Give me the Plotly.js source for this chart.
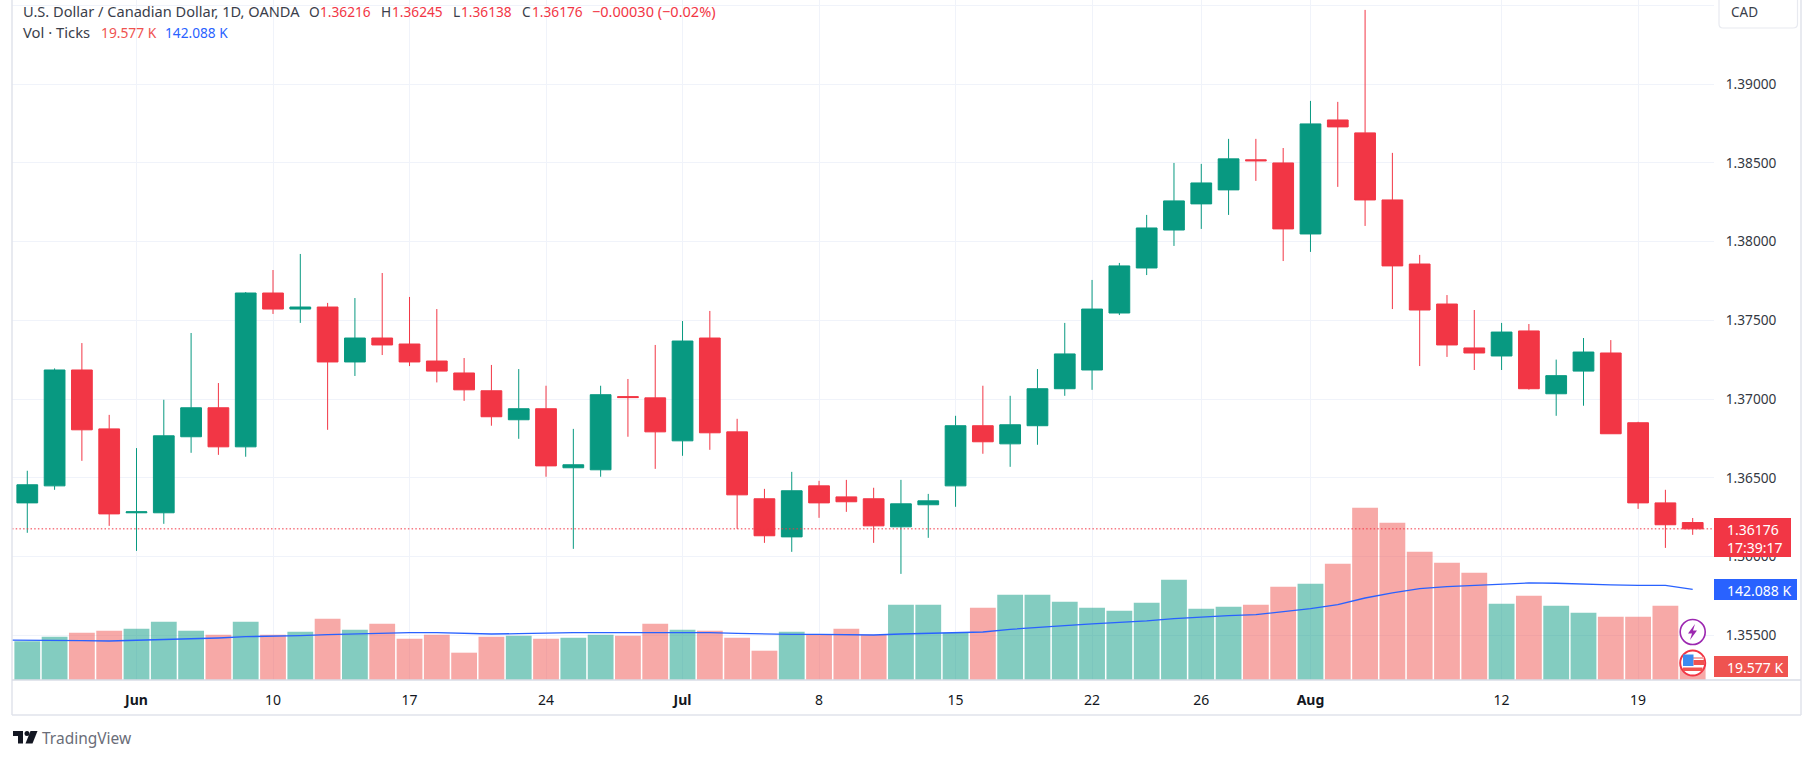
<!DOCTYPE html>
<html>
<head>
<meta charset="utf-8">
<script src="https://cdn.plot.ly/plotly-3.0.1.min.js"></script>
<style>html,body{margin:0;padding:0;background:#fff}#chart{width:1814px;height:759px}</style>
</head>
<body>
<div id="chart"></div>
<script>
const dates = ["2024-05-28","2024-05-29","2024-05-30","2024-05-31","2024-06-03","2024-06-04","2024-06-05","2024-06-06","2024-06-07","2024-06-10","2024-06-11","2024-06-12","2024-06-13","2024-06-14","2024-06-17","2024-06-18","2024-06-19","2024-06-20","2024-06-21","2024-06-24","2024-06-25","2024-06-26","2024-06-27","2024-06-28","2024-07-01","2024-07-02","2024-07-03","2024-07-04","2024-07-05","2024-07-08","2024-07-09","2024-07-10","2024-07-11","2024-07-12","2024-07-15","2024-07-16","2024-07-17","2024-07-18","2024-07-19","2024-07-22","2024-07-23","2024-07-24","2024-07-25","2024-07-26","2024-07-29","2024-07-30","2024-07-31","2024-08-01","2024-08-02","2024-08-05","2024-08-06","2024-08-07","2024-08-08","2024-08-09","2024-08-12","2024-08-13","2024-08-14","2024-08-15","2024-08-16","2024-08-19","2024-08-20","2024-08-21"];
const opens = [1.36341,1.36449,1.37185,1.36811,1.36278,1.36278,1.36761,1.36945,1.36697,1.37674,1.37572,1.37585,1.37236,1.37388,1.37350,1.37242,1.37166,1.37053,1.36869,1.36939,1.36564,1.36551,1.37016,1.37008,1.36735,1.37388,1.36792,1.36367,1.36125,1.36449,1.36379,1.36367,1.36189,1.36329,1.36449,1.36831,1.36716,1.36831,1.37066,1.37185,1.37547,1.37833,1.38074,1.38240,1.38329,1.38520,1.38500,1.38049,1.38773,1.38691,1.38265,1.37858,1.37604,1.37325,1.37274,1.37433,1.37034,1.37178,1.37293,1.36850,1.36341,1.36216];
const highs = [1.36545,1.37195,1.37356,1.36900,1.36689,1.36996,1.37420,1.37102,1.37680,1.37820,1.37922,1.37611,1.37642,1.37801,1.37649,1.37572,1.37261,1.37217,1.37191,1.37085,1.36811,1.37085,1.37128,1.37344,1.37496,1.37560,1.36875,1.36430,1.36538,1.36481,1.36487,1.36437,1.36487,1.36398,1.36894,1.37085,1.37021,1.37191,1.37484,1.37757,1.37865,1.38170,1.38500,1.38494,1.38653,1.38653,1.38595,1.38894,1.38888,1.39472,1.38564,1.37916,1.37661,1.37566,1.37484,1.37477,1.37251,1.37388,1.37375,1.36856,1.36424,1.36245];
const lows = [1.36151,1.36424,1.36608,1.36195,1.36036,1.36208,1.36659,1.36646,1.36634,1.37541,1.37484,1.36805,1.37147,1.37280,1.37210,1.37106,1.36989,1.36831,1.36748,1.36507,1.36049,1.36507,1.36761,1.36557,1.36640,1.36678,1.36176,1.36087,1.36030,1.36246,1.36284,1.36087,1.35890,1.36119,1.36316,1.36653,1.36570,1.36710,1.37021,1.37059,1.37534,1.37788,1.37973,1.38081,1.38170,1.38386,1.37877,1.37935,1.38348,1.38100,1.37572,1.37210,1.37268,1.37185,1.37185,1.37060,1.36894,1.36958,1.36780,1.36303,1.36055,1.36138];
const closes = [1.36456,1.37185,1.36805,1.36271,1.36284,1.36767,1.36945,1.36697,1.37674,1.37572,1.37585,1.37236,1.37388,1.37344,1.37236,1.37178,1.37059,1.36888,1.36939,1.36576,1.36583,1.37028,1.37010,1.36792,1.37369,1.36786,1.36392,1.36132,1.36418,1.36341,1.36348,1.36195,1.36335,1.36354,1.36831,1.36729,1.36837,1.37066,1.37287,1.37572,1.37846,1.38087,1.38259,1.38373,1.38526,1.38514,1.38081,1.38748,1.38729,1.38265,1.37846,1.37566,1.37344,1.37293,1.37426,1.37066,1.37149,1.37299,1.36780,1.36341,1.36202,1.36176];
const volumesK = [60.6,67.9,74.2,77.3,80.4,91.4,77.3,71.0,91.4,71.0,75.7,96.1,78.9,88.3,64.8,71.0,42.8,67.9,69.5,64.8,66.3,71.0,69.5,88.3,78.9,77.3,66.3,45.9,75.7,71.0,80.4,71.0,118.0,118.0,74.2,113.3,133.7,133.7,122.7,113.3,108.6,121.1,157.2,111.7,114.9,118.0,146.2,150.9,182.2,270.0,246.5,201.0,183.8,168.1,119.6,132.1,116.4,105.5,99.2,99.2,116.4,19.577];
const maDates = ["2024-05-27"].concat(dates);
const volumeMAK = [62.7,62.7,62.7,61.7,61.1,62.2,63.2,64.3,65.8,67.9,68.4,69.5,71.0,72.1,73.1,74.2,74.2,73.1,72.1,72.6,73.7,74.2,74.2,74.2,74.7,75.2,74.2,73.1,72.1,71.6,71.6,71.6,70.5,72.1,73.1,74.2,75.2,79.4,82.6,85.2,87.8,89.9,92.5,96.1,98.8,100.9,102.4,107.1,111.8,118.1,128.5,136.4,143.2,146.3,148.4,151.0,152.1,151.6,150.0,149.0,148.4,148.4,142.088];
const tickDates = ["2024-06-03","2024-06-10","2024-06-17","2024-06-24","2024-07-01","2024-07-08","2024-07-15","2024-07-22","2024-07-26","2024-08-01","2024-08-12","2024-08-19"];
const tickLabels = ["<b>Jun</b>","10","17","24","<b>Jul</b>","8","15","22","26","<b>Aug</b>","12","19"];
const priceTicks = [1.355,1.36,1.365,1.37,1.375,1.38,1.385,1.39,1.395];
const priceTickLabels = ["1.35500","1.36000","1.36500","1.37000","1.37500","1.38000","1.38500","1.39000",""];

const GREEN = "#089981", RED = "#F23645", VOLRED = "#EF5350", BLUE = "#2962FF", INK = "#131722", GRID = "#F0F3FA", EDGE = "#E0E3EB";
const FONT = "'Noto Sans','Liberation Sans',Arial,sans-serif";
const L = 12, R = 1714, T = 0, B = 680, lastClose = closes[closes.length - 1];
const X = p => (p - L) / (R - L), Y = p => (B - p) / (B - T);

const volColors = opens.map((o, i) => closes[i] >= o ? "rgba(8,153,129,0.5)" : "rgba(239,83,80,0.5)");

const traces = [
  {type:"bar", x:dates, y:volumesK, yaxis:"y", marker:{color:volColors, line:{width:0}}, hoverinfo:"skip"},
  {type:"scatter", mode:"lines", x:maDates, y:volumeMAK, yaxis:"y", line:{color:BLUE, width:1.3}, hoverinfo:"skip"},
  {type:"candlestick", x:dates, open:opens, high:highs, low:lows, close:closes, yaxis:"y2", whiskerwidth:0,
   increasing:{line:{color:GREEN, width:1}, fillcolor:GREEN},
   decreasing:{line:{color:RED, width:1}, fillcolor:RED}, hoverinfo:"skip"}
];

function label(x, y, text, color, size, anchor) {
  return {xref:"paper", yref:"paper", x:X(x), y:Y(y), text:text, showarrow:false, xanchor:anchor||"left", yanchor:"middle",
          borderpad:0, borderwidth:0, font:{family:FONT, size:size||13.7, color:color||INK}};
}
function box(x0, y0, x1, y1, fill, line, lw) {
  return {type:"rect", xref:"paper", yref:"paper", x0:X(x0), x1:X(x1), y0:Y(y0), y1:Y(y1), layer:"above",
          fillcolor:fill, line:{color:line||fill, width:lw===undefined?0:lw}};
}
function seg(x0, y0, x1, y1, color, w) {
  return {type:"line", xref:"paper", yref:"paper", x0:X(x0), x1:X(x1), y0:Y(y0), y1:Y(y1), layer:"above", line:{color:color, width:w||1}};
}
function circle(cx, cy, r, fill, line, lw) {
  return {type:"circle", xref:"paper", yref:"paper", x0:X(cx-r), x1:X(cx+r), y0:Y(cy+r), y1:Y(cy-r), layer:"above",
          fillcolor:fill, line:{color:line, width:lw}};
}
function poly(points, fill) {
  const d = points.map((p, i) => (i ? "L" : "M") + X(p[0]) + "," + Y(p[1])).join(" ") + " Z";
  return {type:"path", xref:"paper", yref:"paper", path:d, layer:"above", fillcolor:fill, line:{width:0}};
}

const shapes = [
  {type:"line", xref:"paper", yref:"y2", x0:0, x1:1, y0:lastClose, y1:lastClose, layer:"above", line:{color:RED, width:1, dash:"1.5px,2.2px"}},
  seg(12, 0, 12, 715, EDGE, 1.5),
  seg(1801, 0, 1801, 715, EDGE, 1.5),
  seg(12, 715, 1801, 715, EDGE, 1.5),
  seg(12, 680, 1801, 680, "#D9DCE6", 1.5),
  {type:"path", xref:"paper", yref:"paper", layer:"above", fillcolor:"#fff", line:{color:"#E8EAF0", width:1.2},
   path:"M"+X(1719)+","+Y(0)+" L"+X(1719)+","+Y(24)+" Q"+X(1719)+","+Y(28)+" "+X(1723)+","+Y(28)+" L"+X(1793)+","+Y(28)+" Q"+X(1797.5)+","+Y(28)+" "+X(1797.5)+","+Y(24)+" L"+X(1797.5)+","+Y(0)},
  box(1714, 518, 1791, 557, RED),
  box(1714, 579, 1797, 600, BLUE),
  box(1714, 656, 1788, 677, VOLRED),
  circle(1692.7, 632, 12.5, "#fff", "#9C27B0", 1.6),
  poly([[1695,624],[1688,633.5],[1692,633.5],[1690,640],[1697,630.5],[1693,630.5]], "#9C27B0"),
  circle(1692.7, 663, 12.5, "#fff", RED, 2),
  box(1684, 657, 1704, 659, "#F7A9A7"),
  box(1683, 654.5, 1693.5, 666, "#3D8BEF"),
  box(1693.5, 660, 1704, 665, "#EF5350"),
  box(1683, 667.5, 1702.5, 671, "#EF5350"),
  box(13, 731, 23, 736, "#131722"),
  box(18, 736, 23, 743.5, "#131722"),
  circle(27, 733.5, 2.5, "#131722", "#131722", 0),
  poly([[30.5,731],[37.5,731],[32.5,743.5],[25.5,743.5]], "#131722")
];

const annotations = [
  label(23, 11, "U.S. Dollar / Canadian Dollar, 1D, OANDA", "#3A3E4A", 14.6),
  label(309, 11, "O", "#3A3E4A"), label(320, 11, "1.36216", RED),
  label(380.5, 11, "H", "#3A3E4A"), label(392, 11, "1.36245", RED),
  label(453, 11, "L", "#3A3E4A"), label(461, 11, "1.36138", RED),
  label(522, 11, "C", "#3A3E4A"), label(532, 11, "1.36176", RED),
  label(592, 11, "−0.00030 (−0.02%)", RED, 14.5),
  label(23, 32, "Vol · Ticks", "#3A3E4A", 14.8),
  label(101, 32, "19.577 K", VOLRED, 13.8),
  label(165, 32, "142.088 K", BLUE, 13.7),
  label(1731, 12, "CAD", "#3A3E4A", 13.5),
  label(1727, 529, "1.36176", "#fff", 14),
  label(1727, 547, "17:39:17", "#fff", 14),
  label(1727, 590, "142.088 K", "#fff", 14),
  label(1727, 667, "19.577 K", "#fff", 14),
  label(42, 738, "TradingView", "#6A6D78", 15.5)
];

const layout = {
  width:1814, height:759, autosize:false, showlegend:false, hovermode:false, dragmode:false,
  paper_bgcolor:"#fff", plot_bgcolor:"#fff", font:{family:FONT, size:13, color:INK},
  margin:{l:L, r:1814-R, t:T, b:759-B, pad:0},
  bargap:0.055, boxgap:0.24, boxgroupgap:0, boxmode:"overlay",
  xaxis:{type:"category", categoryorder:"array", categoryarray:maDates, range:[0.44, 62.78], tickmode:"array", tickvals:tickDates, ticktext:tickLabels, tickangle:0,
         showgrid:true, gridcolor:GRID, gridwidth:1, ticks:"outside", ticklen:7, tickcolor:"rgba(0,0,0,0)", showline:false, zeroline:false,
         rangeslider:{visible:false}, fixedrange:true, tickfont:{family:FONT, size:14, color:INK}},
  yaxis:{domain:[0,1], range:[0, 1065.6], visible:false, showgrid:false, zeroline:false, fixedrange:true},
  yaxis2:{overlaying:"y", side:"right", anchor:"x", range:[1.35216, 1.39535], tickmode:"array", tickvals:priceTicks, ticktext:priceTickLabels,
          showgrid:true, gridcolor:GRID, gridwidth:1, ticks:"outside", ticklen:8, tickcolor:"rgba(0,0,0,0)", zeroline:false, showline:false,
          fixedrange:true, tickfont:{family:FONT, size:13.7, color:"#333842"}},
  shapes:shapes, annotations:annotations
};

Plotly.newPlot("chart", traces, layout, {displayModeBar:false, staticPlot:true});
</script>
</body>
</html>
